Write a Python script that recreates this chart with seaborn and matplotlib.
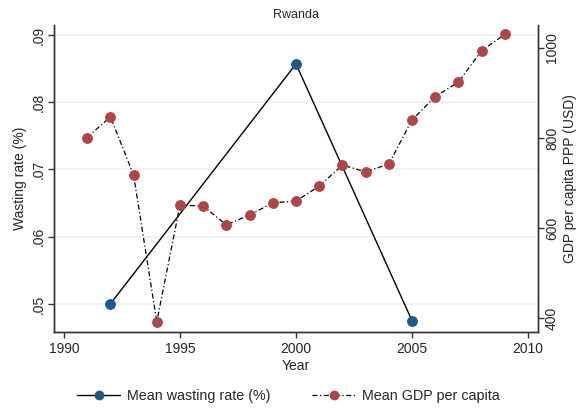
import pandas as pd
import matplotlib.pyplot as plt
import matplotlib.ticker as mticker
from matplotlib.lines import Line2D
import seaborn as sns

# Datos (Rwanda)
years_wasting = [1992, 2000, 2005]
wasting_rate = [0.0500, 0.0857, 0.0475]

years_gdp = [1991, 1992, 1993, 1994, 1995, 1996, 1997, 1998, 1999, 2000,
             2001, 2002, 2003, 2004, 2005, 2006, 2007, 2008, 2009]
gdp_pc = [801, 847, 718, 392, 651, 649, 607, 629, 656, 660,
          693, 740, 725, 742, 840, 892, 924, 994, 1030]

x_ticks = [1990, 1995, 2000, 2005, 2010]
left_ticks = [0.05, 0.06, 0.07, 0.08, 0.09]
right_ticks = [400, 600, 800, 1000]

blue = "#1b5a8a"
red = "#b04446"
dashdot = (0, (4, 2, 1, 2))

df_w = pd.DataFrame({"year": years_wasting, "wasting": wasting_rate})
df_g = pd.DataFrame({"year": years_gdp, "gdp": gdp_pc})

sns.set_style("white")
plt.rcParams["font.family"] = ["Liberation Sans", "DejaVu Sans"]

fig = plt.figure(figsize=(5.83, 4.09), dpi=100)
ax = fig.add_axes([0.0926, 0.188, 0.8302, 0.751])
ax2 = ax.twinx()

# Líneas de cuadrícula suaves (eje izquierdo)
for t in left_ticks:
    ax.axhline(t, color="#eaf2f3", lw=1.2, zorder=0)

sns.lineplot(data=df_w, x="year", y="wasting", ax=ax, color="black", lw=1,
             marker="o", markersize=7, markerfacecolor=blue, markeredgecolor=blue,
             zorder=3)
sns.lineplot(data=df_g, x="year", y="gdp", ax=ax2, color="black", lw=0.9,
             linestyle=dashdot, marker="o", markersize=7,
             markerfacecolor=red, markeredgecolor=red, zorder=3)

ax.set_xlim(1989.57, 2010.43)
ax.set_ylim(0.0458, 0.0915)
ax2.set_ylim(369, 1051)

ax.set_xticks(x_ticks)
ax.set_yticks(left_ticks)
ax2.set_yticks(right_ticks)
ax.yaxis.set_major_formatter(mticker.FuncFormatter(lambda v, p: f"{v:.2f}".lstrip("0")))

for a in (ax, ax2):
    a.tick_params(axis="both", direction="out", length=4, width=1, color="#333333",
                  labelsize=10, pad=2)
    a.spines["top"].set_visible(False)
    for s in ("left", "right", "bottom"):
        a.spines[s].set_color("#333333")
        a.spines[s].set_linewidth(1)
ax.tick_params(axis="y", left=True, labelrotation=90)
ax2.tick_params(axis="y", right=True, labelrotation=90, pad=1)
ax.tick_params(axis="x", bottom=True, pad=3)
for lbl in ax.get_yticklabels():
    lbl.set_va("center")
for lbl in ax2.get_yticklabels():
    lbl.set_va("center")

ax.set_xlabel("Year", fontsize=10, labelpad=2)
ax.set_ylabel("Wasting rate (%)", fontsize=10, labelpad=3)
ax2.set_ylabel("GDP per capita PPP (USD)", fontsize=10, labelpad=3, rotation=90)
ax.set_title("Rwanda", fontsize=9, pad=5)

handles = [
    Line2D([], [], color="black", lw=1, marker="o", markersize=6,
           markerfacecolor=blue, markeredgecolor=blue),
    Line2D([], [], color="black", lw=0.9, linestyle=dashdot, marker="o",
           markersize=6, markerfacecolor=red, markeredgecolor=red),
]
fig.legend(handles, ["Mean wasting rate (%)", "Mean GDP per capita"], ncol=2,
           loc="center", bbox_to_anchor=(0.495, 0.032), frameon=False, fontsize=10.3,
           columnspacing=2.9, handlelength=3, handletextpad=0.5)

fig.savefig("out.png", dpi=100)
